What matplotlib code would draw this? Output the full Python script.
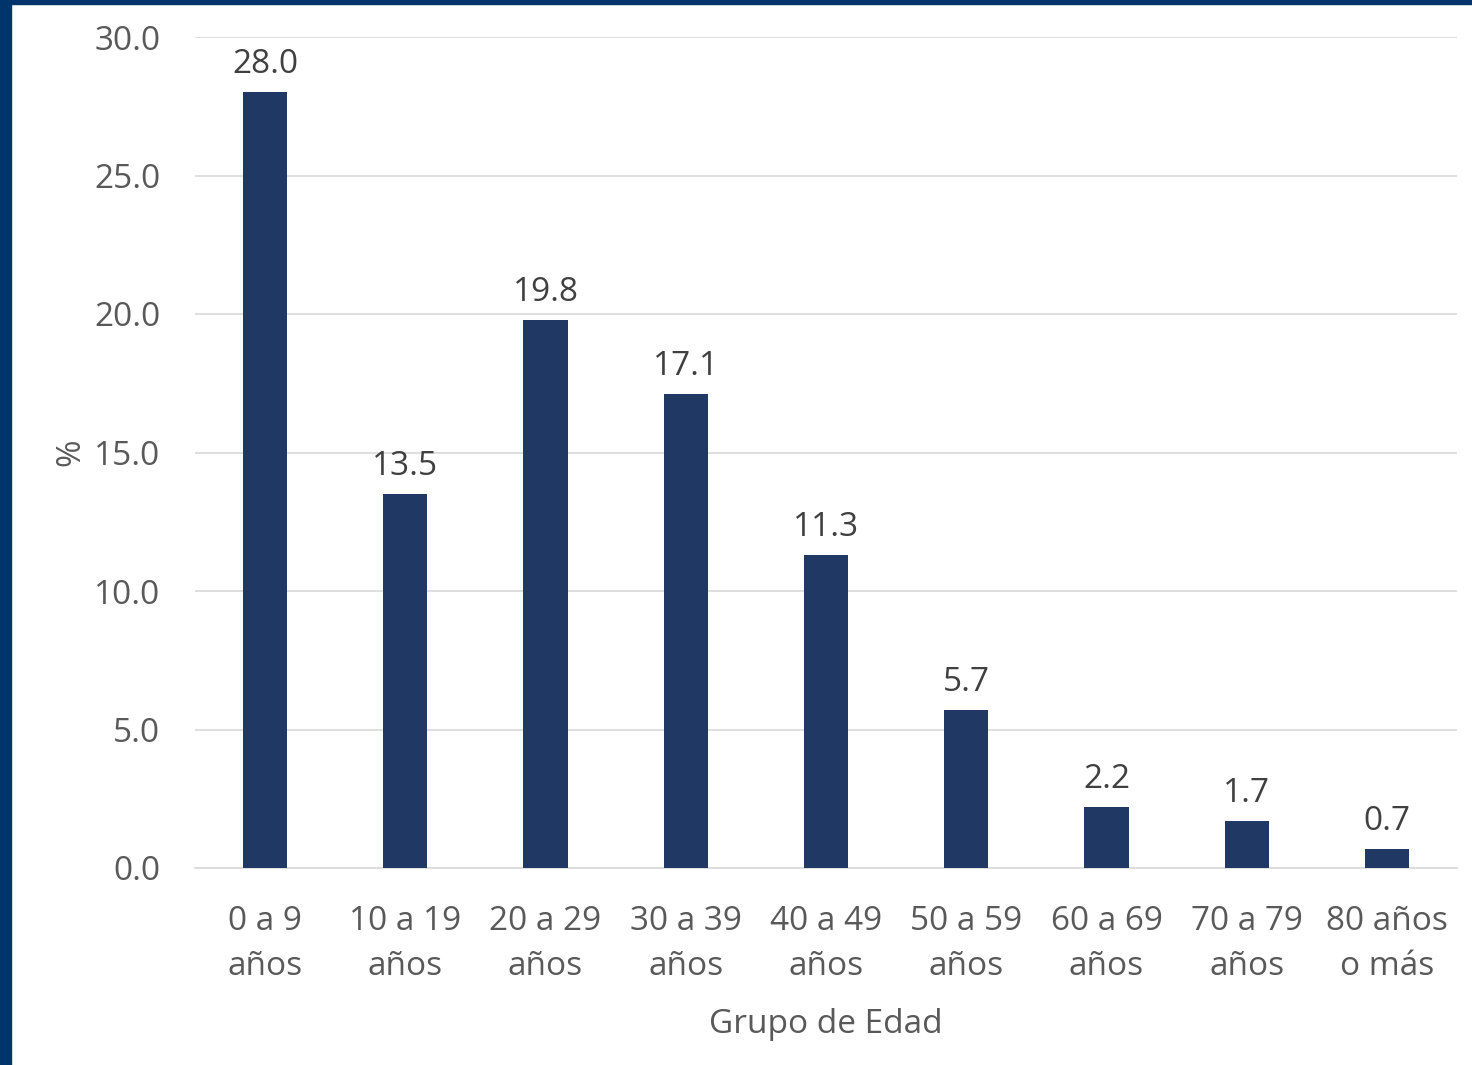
import matplotlib
matplotlib.use("Agg")
import matplotlib.pyplot as plt
from matplotlib.patches import Rectangle

categories = ["0 a 9\naños", "10 a 19\naños", "20 a 29\naños", "30 a 39\naños",
              "40 a 49\naños", "50 a 59\naños", "60 a 69\naños", "70 a 79\naños",
              "80 años\no más"]
values = [28.0, 13.5, 19.8, 17.1, 11.3, 5.7, 2.2, 1.7, 0.7]
yticks = [0, 5, 10, 15, 20, 25, 30]

plt.rcParams['font.family'] = ['Open Sans', 'DejaVu Sans']
text_color = "#595959"
bar_color = "#203864"
fs = 24

fig = plt.figure(figsize=(14.72, 10.65), dpi=100)
fig.patch.set_facecolor("white")
# border
fig.add_artist(Rectangle((0, 0), 11/1472, 1, transform=fig.transFigure, color="#00356B", zorder=0))
fig.add_artist(Rectangle((0, 1 - 4/1065), 1, 4/1065, transform=fig.transFigure, color="#00356B", zorder=0))

ax = fig.add_axes([195/1472, (1065-868)/1065, (1457-195)/1472, (868-37)/1065])
x = list(range(len(categories)))
bars = ax.bar(x, values, width=0.315, color=bar_color, zorder=3)
ax.set_xlim(-0.5, len(categories) - 0.5)
ax.set_ylim(0, 30)
ax.set_yticks(yticks)
ax.set_yticklabels([f"{v:.1f}" for v in yticks])
ax.yaxis.grid(True, color="#D9D9D9", linewidth=1.2, zorder=0)
ax.set_axisbelow(True)
for s in ["top", "right", "left"]:
    ax.spines[s].set_visible(False)
ax.spines["bottom"].set_color("#D9D9D9")
ax.spines["bottom"].set_linewidth(1.2)
ax.tick_params(axis="both", length=0, labelsize=fs, colors=text_color)
ax.tick_params(axis="y", pad=25)
ax.tick_params(axis="x", pad=27)
ax.set_xticks(x)
ax.set_xticklabels(categories, linespacing=1.45)
for lbl in ax.get_yticklabels():
    lbl.set_color(text_color)

for xi, v in zip(x, values):
    ax.annotate(f"{v:.1f}", (xi, v), xytext=(0, 11), textcoords="offset pixels",
                ha="center", va="bottom", fontsize=fs, color="#404040")

ax.set_xlabel("Grupo de Edad", fontsize=fs, color=text_color, labelpad=18)
ax.set_ylabel("%", fontsize=fs, color=text_color, labelpad=5)

fig.savefig("out.png", dpi=100, facecolor="white")
